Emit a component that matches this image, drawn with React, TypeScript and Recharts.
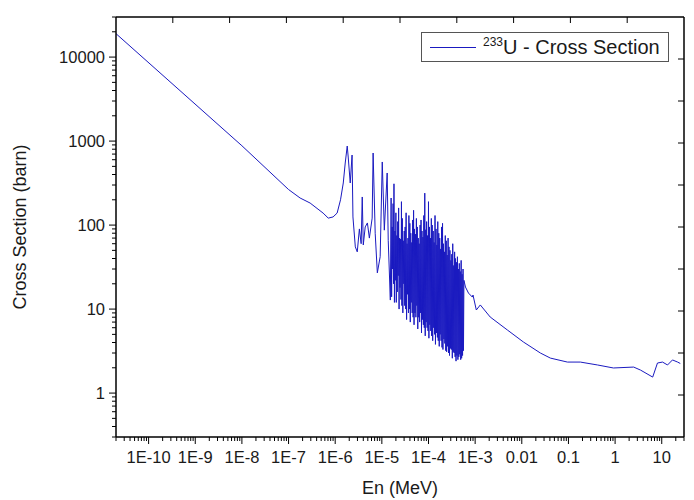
import React from 'react';
import { LineChart, Line, XAxis, YAxis, ReferenceLine } from 'recharts';

// neutron energy (MeV) and cross section (barn)
const energyMeV = [
  2e-11, 1e-8, 1e-7, 1.77e-7, 2.9e-7, 5.5e-7, 7.1e-7, 9e-7, 1.1e-6, 1.3e-6,
  1.49e-6, 1.64e-6, 1.81e-6, 1.9e-6, 2.1e-6, 2.3e-6, 2.4e-6, 2.7e-6, 2.97e-6, 3.3e-6,
  3.6e-6, 3.8e-6, 4.0e-6, 4.4e-6, 4.9e-6, 5.4e-6, 6.2e-6, 6.5e-6, 7.2e-6, 8.0e-6,
  9.2e-6, 1.02e-5, 1.13e-5, 1.3e-5, 1.37e-5, 1.52e-5,
  // resonance region
  1.58e-5, 1.62e-5, 1.66e-5, 1.70e-5, 1.74e-5, 1.78e-5, 1.82e-5, 1.86e-5, 1.91e-5, 1.95e-5,
  2.0e-5, 2.04e-5, 2.09e-5, 2.14e-5, 2.19e-5, 2.24e-5, 2.29e-5, 2.34e-5, 2.4e-5, 2.45e-5,
  2.51e-5, 2.57e-5, 2.63e-5, 2.69e-5, 2.75e-5, 2.82e-5, 2.88e-5, 2.95e-5, 3.02e-5, 3.09e-5,
  3.16e-5, 3.24e-5, 3.31e-5, 3.39e-5, 3.47e-5, 3.55e-5, 3.63e-5, 3.72e-5, 3.8e-5, 3.89e-5,
  3.98e-5, 4.07e-5, 4.17e-5, 4.27e-5, 4.37e-5, 4.47e-5, 4.57e-5, 4.68e-5, 4.79e-5, 4.9e-5,
  5.01e-5, 5.13e-5, 5.25e-5, 5.37e-5, 5.5e-5, 5.62e-5, 5.75e-5, 5.89e-5, 6.03e-5, 6.17e-5,
  6.31e-5, 6.46e-5, 6.61e-5, 6.76e-5, 6.92e-5, 7.08e-5, 7.24e-5, 7.41e-5, 7.59e-5, 7.76e-5,
  7.94e-5, 8.13e-5, 8.32e-5, 8.51e-5, 8.71e-5, 8.91e-5, 9.12e-5, 9.33e-5, 9.55e-5, 9.77e-5,
  1.0e-4, 1.02e-4, 1.05e-4, 1.07e-4, 1.1e-4, 1.12e-4, 1.15e-4, 1.17e-4, 1.2e-4, 1.23e-4,
  1.26e-4, 1.29e-4, 1.32e-4, 1.35e-4, 1.38e-4, 1.41e-4, 1.45e-4, 1.48e-4, 1.51e-4, 1.55e-4,
  1.58e-4, 1.62e-4, 1.66e-4, 1.70e-4, 1.74e-4, 1.78e-4, 1.82e-4, 1.86e-4, 1.91e-4, 1.95e-4,
  2.0e-4, 2.04e-4, 2.09e-4, 2.14e-4, 2.19e-4, 2.24e-4, 2.29e-4, 2.34e-4, 2.4e-4, 2.45e-4,
  2.51e-4, 2.57e-4, 2.63e-4, 2.69e-4, 2.75e-4, 2.82e-4, 2.88e-4, 2.95e-4, 3.02e-4, 3.09e-4,
  3.16e-4, 3.24e-4, 3.31e-4, 3.39e-4, 3.47e-4, 3.55e-4, 3.63e-4, 3.72e-4, 3.8e-4, 3.89e-4,
  3.98e-4, 4.07e-4, 4.17e-4, 4.27e-4, 4.37e-4, 4.47e-4, 4.57e-4, 4.68e-4, 4.79e-4, 4.9e-4,
  5.01e-4, 5.13e-4, 5.25e-4, 5.37e-4, 5.5e-4, 5.62e-4, 5.75e-4,
  // fast region
  6.2e-4, 7.2e-4, 8.7e-4, 9.0e-4, 1.06e-3, 1.29e-3, 2.1e-3, 4.9e-3, 0.0108, 0.025,
  0.041, 0.095, 0.18, 0.42, 0.92, 2.5, 3.5, 6.4, 8.1, 10.4,
  13.3, 17, 21.9, 25,
];

const crossSectionBarn = [
  19000, 880, 265, 210, 183, 139, 121, 125, 139, 200,
  317, 548, 873, 646, 317, 682, 125, 55, 48, 90,
  60, 216, 58, 95, 106, 70, 121, 721, 80, 27,
  42, 564, 87, 417, 66, 12.8,
  // resonance region
  210, 14, 95, 30, 180, 20, 310, 12, 85, 22,
  140, 12, 75, 16, 110, 25, 160, 10, 70, 18,
  68, 13, 190, 11, 120, 9, 65, 20, 85, 11,
  95, 10, 140, 7.5, 60, 15, 70, 9, 130, 10,
  105, 7, 80, 12, 62, 9, 115, 8, 150, 6.5,
  90, 9, 78, 8, 120, 11, 95, 5.8, 70, 8,
  60, 7, 100, 9, 115, 5.2, 85, 7.5, 72, 6.5,
  130, 6, 240, 4.8, 88, 7, 110, 6, 75, 5.5,
  190, 4.5, 95, 6.5, 70, 5.5, 120, 4.8, 100, 4.2,
  85, 6, 62, 5, 130, 3.8, 90, 5.2, 58, 4.6,
  110, 4.2, 80, 3.6, 70, 5, 52, 4.2, 95, 3.5,
  105, 3.3, 60, 4.4, 48, 3.9, 75, 3.2, 65, 3.1,
  44, 3.6, 70, 3.0, 55, 2.8, 50, 3.4, 38, 3.3,
  45, 2.6, 60, 3.1, 33, 3.0, 48, 2.7, 40, 2.4,
  36, 2.8, 42, 2.5, 30, 2.7, 35, 2.9, 28, 2.5,
  38, 2.6, 26, 2.8, 30, 3.2, 22,
  // fast region
  18.3, 15.5, 13.9, 14.7, 9.75, 11.2, 8.05, 5.64, 4.06, 3.0,
  2.61, 2.34, 2.34, 2.16, 1.99, 2.04, 1.88, 1.55, 2.28, 2.34,
  2.16, 2.48, 2.34, 2.25,
];

const xMajorTicks = [1e-10, 1e-9, 1e-8, 1e-7, 1e-6, 1e-5, 1e-4, 1e-3, 0.01, 0.1, 1, 10];
const xTickLabels = ['1E-10', '1E-9', '1E-8', '1E-7', '1E-6', '1E-5', '1E-4', '1E-3', '0.01', '0.1', '1', '10'];
const yMajorTicks = [1, 10, 100, 1000, 10000];
const yTickLabels = ['1', '10', '100', '1000', '10000'];
const seriesName = 'U - Cross Section';
const isotope = '233';

const xDomain = [2e-11, 30];
const yDomain = [0.3, 30000];

const data = energyMeV.map((e, i) => ({ e, s: crossSectionBarn[i] }));

function minorTicks(lo: number, hi: number) {
  const out: number[] = [];
  for (let p = -12; p <= 5; p++) {
    for (let m = 1; m <= 9; m++) {
      const v = m * Math.pow(10, p);
      if (v >= lo && v <= hi) out.push(v);
    }
  }
  return out;
}

// the top and right frame sides carry 10 evenly spaced ticks
function evenLogTicks(lo: number, hi: number, parts: number) {
  const a = Math.log10(lo);
  const b = Math.log10(hi);
  const out: number[] = [];
  for (let k = 1; k < parts; k++) out.push(Math.pow(10, a + ((b - a) * k) / parts));
  return out;
}

const xTicks = minorTicks(xDomain[0], xDomain[1]);
const yTicks = minorTicks(yDomain[0], yDomain[1]);
const topTicks = evenLogTicks(xDomain[0], xDomain[1], 10);
const rightTicks = evenLogTicks(yDomain[0], yDomain[1], 10);

// stub length of the frame ticks (about 6px of the 568 x 420 plot), in data ratio
const topStub = Math.pow(10, (6 / 420) * Math.log10(yDomain[1] / yDomain[0]));
const rightStub = Math.pow(10, (6 / 568) * Math.log10(xDomain[1] / xDomain[0]));

const FONT = '"Liberation Sans", Arial, sans-serif';
const LINE = '#1a1ac0';
const INK = '#1a1a1a';

const majorIndex = (list: number[], v: number) =>
  list.findIndex((t) => Math.abs(Math.log10(t) - Math.log10(v)) < 1e-6);

const BottomTick = (props: any) => {
  const { x, y, payload } = props;
  const idx = majorIndex(xMajorTicks, payload.value);
  const major = idx >= 0;
  return (
    <g>
      <line x1={x} y1={y} x2={x} y2={y + (major ? 7 : 4)} stroke="#000" strokeWidth={1} />
      {major && (
        <text x={x} y={y + 26} textAnchor="middle" fontSize={16.5} fontFamily={FONT} fill={INK}>
          {xTickLabels[idx]}
        </text>
      )}
    </g>
  );
};

const LeftTick = (props: any) => {
  const { x, y, payload } = props;
  const idx = majorIndex(yMajorTicks, payload.value);
  const major = idx >= 0;
  return (
    <g>
      <line x1={x - (major ? 7 : 4)} y1={y} x2={x} y2={y} stroke="#000" strokeWidth={1} />
      {major && (
        <text x={x - 11} y={y + 6} textAnchor="end" fontSize={16.5} fontFamily={FONT} fill={INK}>
          {yTickLabels[idx]}
        </text>
      )}
    </g>
  );
};

const XTitle = (props: any) => {
  const vb = props.viewBox || { x: 116, y: 437, width: 568, height: 63 };
  return (
    <text x={vb.x + vb.width / 2} y={vb.y + 57} textAnchor="middle" fontSize={18} fontFamily={FONT} fill={INK}>
      En (MeV)
    </text>
  );
};

const YTitle = (props: any) => {
  const vb = props.viewBox || { x: 0, y: 17, width: 116, height: 420 };
  const cx = vb.x + 26;
  const cy = vb.y + vb.height / 2;
  return (
    <text
      x={cx}
      y={cy}
      transform={`rotate(-90, ${cx}, ${cy})`}
      textAnchor="middle"
      fontSize={18}
      fontFamily={FONT}
      fill={INK}
    >
      Cross Section (barn)
    </text>
  );
};

export default function App() {
  const axisLine = { stroke: '#000', strokeWidth: 1.5 };
  return (
    <div style={{ position: 'absolute', left: 0, top: 0, width: 694, height: 500, background: '#fff' }}>
      <LineChart width={694} height={500} data={data} margin={{ top: 16, right: 9, bottom: 0, left: 0 }}>
        <XAxis
          dataKey="e"
          type="number"
          scale="log"
          domain={xDomain}
          allowDataOverflow
          ticks={xTicks}
          interval={0}
          tick={<BottomTick />}
          tickLine={false}
          tickSize={0}
          tickMargin={0}
          height={63}
          axisLine={axisLine}
          label={{ content: <XTitle /> }}
        />
        <XAxis
          xAxisId="top"
          orientation="top"
          type="number"
          tick={false}
          tickLine={false}
          height={1}
          axisLine={axisLine}
        />
        <YAxis
          dataKey="s"
          type="number"
          scale="log"
          domain={yDomain}
          allowDataOverflow
          ticks={yTicks}
          interval={0}
          tick={<LeftTick />}
          tickLine={false}
          tickSize={0}
          tickMargin={0}
          width={116}
          axisLine={axisLine}
          label={{ content: <YTitle /> }}
        />
        <YAxis
          yAxisId="right"
          orientation="right"
          type="number"
          tick={false}
          tickLine={false}
          width={1}
          axisLine={axisLine}
        />
        {topTicks.map((v) => (
          <ReferenceLine
            key={`t${v}`}
            segment={[{ x: v, y: yDomain[1] }, { x: v, y: yDomain[1] / topStub }]}
            stroke="#000"
            strokeWidth={1}
            ifOverflow="visible"
          />
        ))}
        {rightTicks.map((v) => (
          <ReferenceLine
            key={`r${v}`}
            segment={[{ x: xDomain[1], y: v }, { x: xDomain[1] / rightStub, y: v }]}
            stroke="#000"
            strokeWidth={1}
            ifOverflow="visible"
          />
        ))}
        <Line
          type="linear"
          dataKey="s"
          stroke={LINE}
          strokeWidth={1}
          dot={false}
          isAnimationActive={false}
        />
      </LineChart>
      <div
        style={{
          position: 'absolute',
          left: 421,
          top: 32,
          width: 248,
          height: 30,
          boxSizing: 'border-box',
          border: '1px solid #555',
          background: '#fff',
          display: 'flex',
          alignItems: 'center',
          fontFamily: FONT,
          color: INK,
          whiteSpace: 'nowrap',
        }}
      >
        <span style={{ display: 'inline-block', width: 46, borderTop: `1px solid ${LINE}`, marginLeft: 8, marginRight: 7 }} />
        <span style={{ fontSize: 20, lineHeight: '28px' }}>
          <sup style={{ fontSize: 12, lineHeight: 0 }}>{isotope}</sup>
          {seriesName}
        </span>
      </div>
    </div>
  );
}
